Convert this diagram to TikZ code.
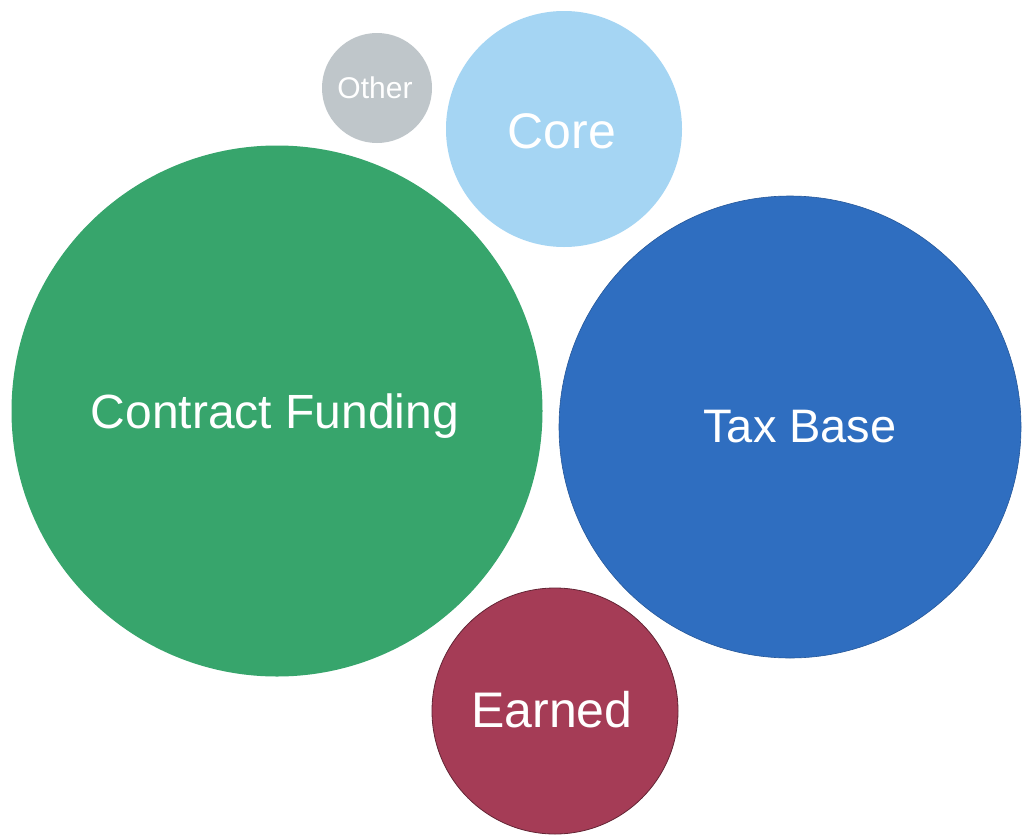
\documentclass[tikz,border=0pt]{standalone}
\usepackage{fontspec}
\setmainfont{Liberation Sans}
\definecolor{cOther}{HTML}{BFC6CA}
\definecolor{cCore}{HTML}{A5D5F3}
\definecolor{cCF}{HTML}{37A56C}
\definecolor{cTB}{HTML}{2F6EC0}
\definecolor{cEarned}{HTML}{A53C56}
\tikzset{
  bubble/.style={circle, inner sep=0pt, outer sep=0pt},
  lbl/.style={anchor=base, text=white, inner sep=0pt}
}
\begin{document}
\begin{tikzpicture}[x=1pt,y=-1pt]
\fill[white] (0,0) rectangle (1023,838);
\useasboundingbox (0,0) rectangle (1023,838);
\node[bubble, fill=cOther, minimum size=110pt] (other) at (377,88) {};
\node[bubble, fill=cCore, minimum size=236pt] (core) at (564,129) {};
\node[bubble, fill=cCF, minimum size=531pt] (cf) at (277,411) {};
\node[bubble, fill=cTB, draw=cTB!80!black, line width=0.6pt, minimum size=462pt] (tb) at (790,427) {};
\node[bubble, fill=cEarned, draw=cEarned!60!black, line width=0.8pt, minimum size=246pt] (earned) at (555,711) {};
\node[lbl, font=\fontsize{30}{36}\selectfont] (tother) at (375,98) {Other};
\node[lbl, font=\fontsize{50}{60}\selectfont] (tcore) at (562,148) {Core};
\node[lbl, font=\fontsize{48}{58}\selectfont] (tcf) at (275,428) {Contract Funding};
\node[lbl, font=\fontsize{47}{56}\selectfont] (ttb) at (800,442) {Tax Base};
\node[lbl, font=\fontsize{50}{60}\selectfont] (tearned) at (552,727) {Earned};
\end{tikzpicture}
\end{document}
